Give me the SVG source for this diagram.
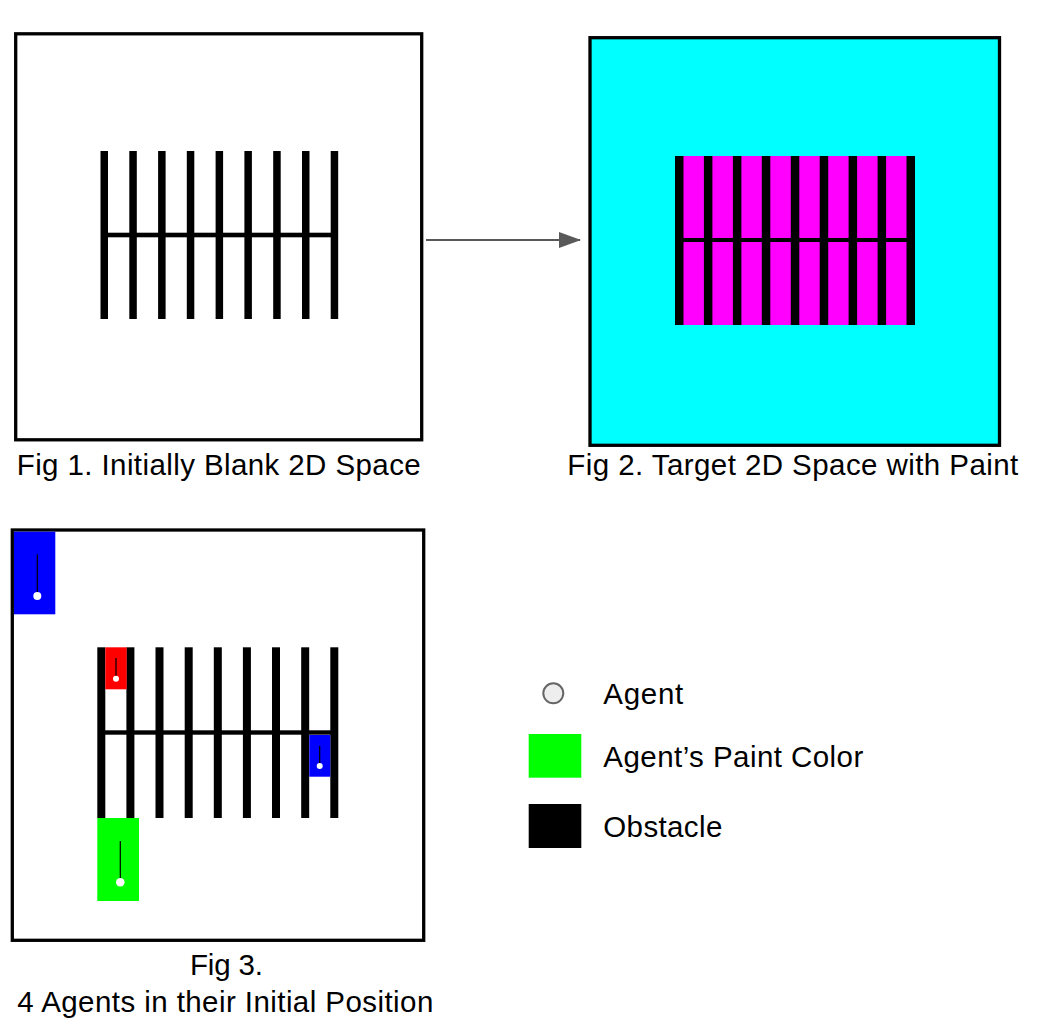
<svg xmlns="http://www.w3.org/2000/svg" width="1046" height="1024" viewBox="0 0 1046 1024">
<defs>
<style>
.frame{fill:#fff;stroke:#000;stroke-width:3.3}
.ob{fill:#000}
.cap{font-family:"Liberation Sans",Arial,sans-serif;font-size:29.5px;fill:#000}
.stem{stroke:#000;stroke-width:1.2}
.dot{fill:#fff}
</style>
<marker id="ah" markerWidth="22" markerHeight="16" refX="21" refY="8" orient="auto" markerUnits="userSpaceOnUse">
<path d="M0,0 L22,8 L0,16 Z" fill="#595959"/>
</marker>
</defs>
<rect width="1046" height="1024" fill="#fff"/>

<g id="fig1">
<rect class="frame" x="15.7" y="33.8" width="406" height="406"/>
<g class="ob">
<rect x="100.5" y="151" width="7.5" height="168"/>
<rect x="129.3" y="151" width="7.5" height="168"/>
<rect x="158.1" y="151" width="7.5" height="168"/>
<rect x="186.8" y="151" width="7.5" height="168"/>
<rect x="215.6" y="151" width="7.5" height="168"/>
<rect x="244.4" y="151" width="7.5" height="168"/>
<rect x="273.2" y="151" width="7.5" height="168"/>
<rect x="302" y="151" width="7.5" height="168"/>
<rect x="330.7" y="151" width="7.5" height="168"/>
<rect x="105" y="232.7" width="228" height="4.6"/>
</g>
<text class="cap" x="16.7" y="475" textLength="404" lengthAdjust="spacing">Fig 1. Initially Blank 2D Space</text>
</g>

<g id="fig2">
<rect x="590" y="37.7" width="409.5" height="407.6" fill="#00ffff" stroke="#000" stroke-width="3.3"/>
<rect x="675" y="156" width="240" height="169" fill="#ff00ff"/>
<g class="ob">
<rect x="675" y="156" width="8.5" height="169"/>
<rect x="703.9" y="156" width="8.5" height="169"/>
<rect x="732.9" y="156" width="8.5" height="169"/>
<rect x="761.8" y="156" width="8.5" height="169"/>
<rect x="790.8" y="156" width="8.5" height="169"/>
<rect x="819.7" y="156" width="8.5" height="169"/>
<rect x="848.6" y="156" width="8.5" height="169"/>
<rect x="877.6" y="156" width="8.5" height="169"/>
<rect x="906.5" y="156" width="8.5" height="169"/>
<rect x="675" y="238" width="240" height="4"/>
</g>
<text class="cap" x="567.3" y="475" textLength="451" lengthAdjust="spacing">Fig 2. Target 2D Space with Paint</text>
</g>

<g id="connectors">
<line x1="426" y1="240" x2="580" y2="240" stroke="#595959" stroke-width="2" marker-end="url(#ah)"/>
</g>

<g id="fig3">
<rect class="frame" x="12.3" y="530" width="411.4" height="410.3"/>
<g class="ob">
<rect x="97.3" y="647.3" width="8" height="170.7"/>
<rect x="126.4" y="647.3" width="8" height="170.7"/>
<rect x="155.5" y="647.3" width="8" height="170.7"/>
<rect x="184.7" y="647.3" width="8" height="170.7"/>
<rect x="213.8" y="647.3" width="8" height="170.7"/>
<rect x="242.9" y="647.3" width="8" height="170.7"/>
<rect x="272" y="647.3" width="8" height="170.7"/>
<rect x="301.2" y="647.3" width="8" height="170.7"/>
<rect x="330.3" y="647.3" width="8" height="170.7"/>
<rect x="105" y="730.3" width="226" height="4.4"/>
</g>
<g id="agent-red">
<rect x="105.3" y="647.3" width="21.4" height="42" fill="#ff0000"/>
<line class="stem" x1="116" y1="658" x2="116" y2="678"/>
<circle class="dot" cx="116" cy="678.7" r="3"/>
</g>
<g id="agent-blue-grid">
<rect x="309.3" y="735" width="21" height="41.7" fill="#0000ff"/>
<line class="stem" x1="319.7" y1="746" x2="319.7" y2="765"/>
<circle class="dot" cx="319.7" cy="766" r="3"/>
</g>
<g id="agent-green">
<rect x="97.3" y="818" width="41.7" height="83" fill="#00ff00"/>
<line class="stem" x1="120.3" y1="841" x2="120.3" y2="881"/>
<circle class="dot" cx="120.3" cy="882.3" r="4.3"/>
</g>
<g id="agent-blue-corner">
<rect x="14" y="531.7" width="41.3" height="82.6" fill="#0000ff"/>
<line class="stem" x1="37.3" y1="554.3" x2="37.3" y2="595"/>
<circle class="dot" cx="37.3" cy="596" r="4"/>
</g>
<text class="cap" x="190" y="975" textLength="73" lengthAdjust="spacing">Fig 3.</text>
<text class="cap" x="17.3" y="1011.5" textLength="416" lengthAdjust="spacing">4 Agents in their Initial Position</text>
</g>

<g id="legend">
<g id="legend-agent">
<circle cx="553.3" cy="693.3" r="10" fill="#eeeeee" stroke="#666" stroke-width="2"/>
<text class="cap" x="603.3" y="704" textLength="80" lengthAdjust="spacing">Agent</text>
</g>
<g id="legend-paint">
<rect x="528.7" y="734" width="52.6" height="43.7" fill="#00ff00"/>
<text class="cap" x="603.3" y="766.7" textLength="260" lengthAdjust="spacing">Agent’s Paint Color</text>
</g>
<g id="legend-obstacle">
<rect x="528.7" y="804" width="52.6" height="44" fill="#000"/>
<text class="cap" x="603.3" y="836.7" textLength="119" lengthAdjust="spacing">Obstacle</text>
</g>
</g>
</svg>
